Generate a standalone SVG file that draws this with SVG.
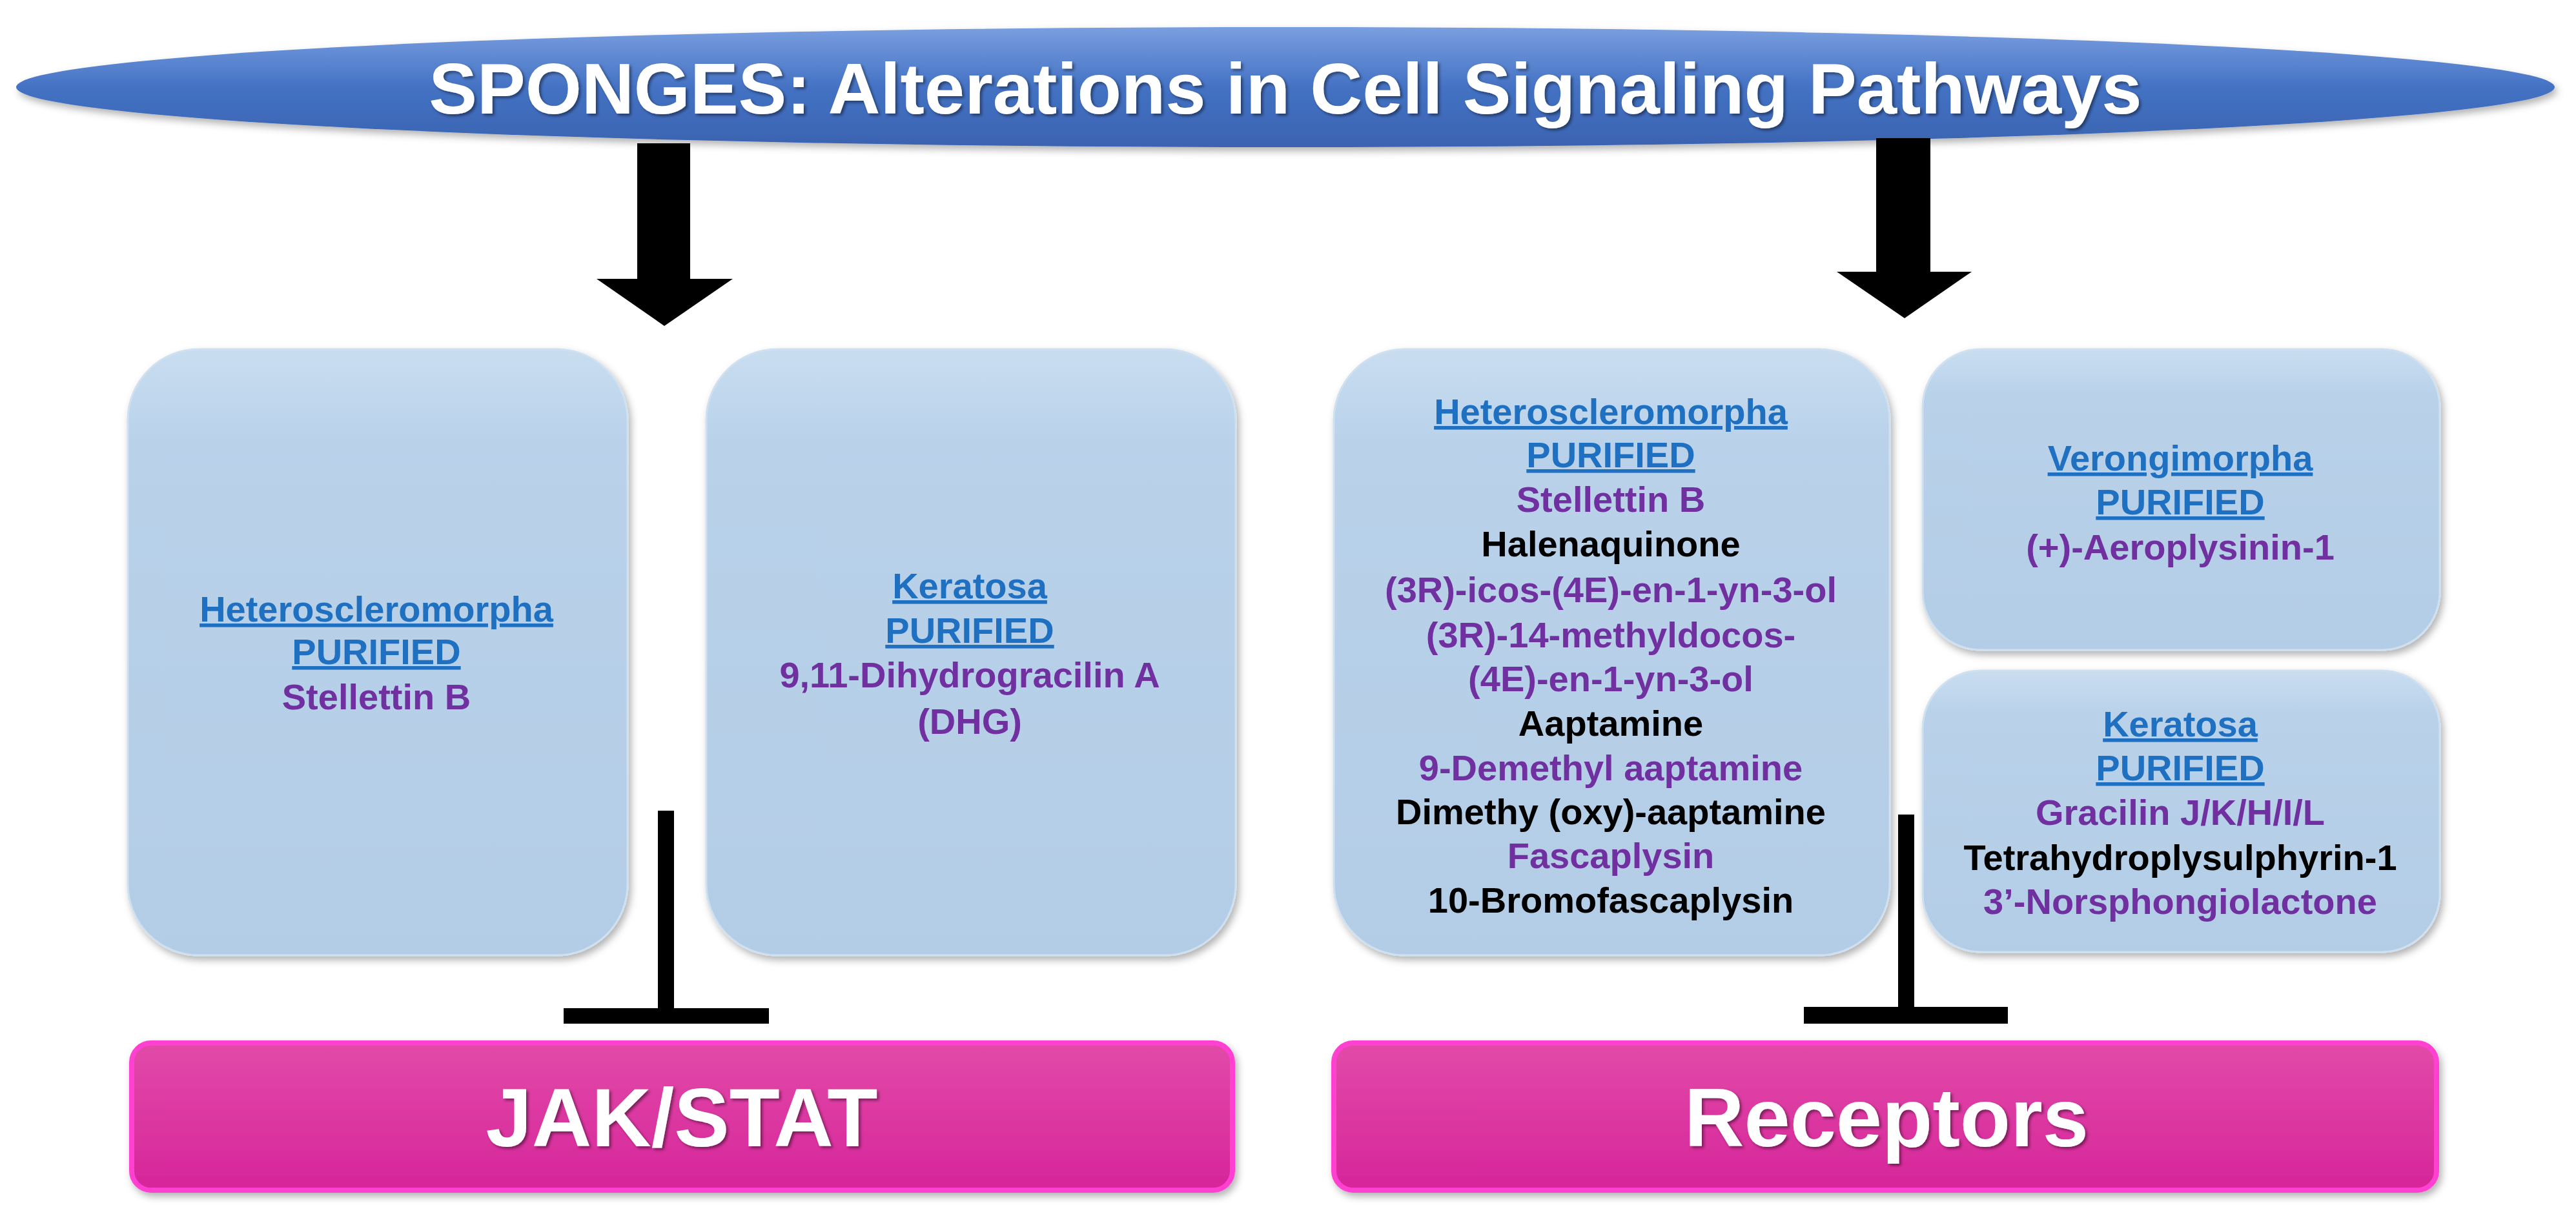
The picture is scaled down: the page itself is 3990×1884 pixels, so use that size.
<svg xmlns="http://www.w3.org/2000/svg" width="3990" height="1884" viewBox="0 0 3990 1884">
<defs>
<linearGradient id="ell" x1="0" y1="0" x2="0" y2="1"><stop offset="0" stop-color="#7a9fe0"/><stop offset="0.5" stop-color="#4472c4"/><stop offset="1" stop-color="#3a63b0"/></linearGradient>
<linearGradient id="box" x1="0" y1="0" x2="0" y2="1"><stop offset="0" stop-color="#c9ddf0"/><stop offset="0.15" stop-color="#b9d2ea"/><stop offset="1" stop-color="#b4cde6"/></linearGradient>
<linearGradient id="pink" x1="0" y1="0" x2="0" y2="1"><stop offset="0" stop-color="#e24aa8"/><stop offset="1" stop-color="#d6259a"/></linearGradient>
<filter id="sh" x="-10%" y="-10%" width="120%" height="120%"><feDropShadow dx="4" dy="6" stdDeviation="6" flood-color="#000" flood-opacity="0.3"/></filter>
<filter id="tsh"><feDropShadow dx="3" dy="3" stdDeviation="2" flood-color="#000" flood-opacity="0.45"/></filter>
</defs>
<style>
.b{fill:url(#box);stroke:#cfe0f0;stroke-width:3;filter:url(#sh)}
.t{font-family:"Liberation Sans",Arial,sans-serif;font-weight:bold;font-size:56px;text-anchor:middle}
.u{fill:#1f70c0;text-decoration:underline}
.p{fill:#7030a0}
.k{fill:#000}
.pk{fill:url(#pink);stroke:#ff3fd0;stroke-width:8;filter:url(#sh)}
.big{font-family:"Liberation Sans",Arial,sans-serif;font-weight:bold;font-size:128px;fill:#fff;text-anchor:middle;filter:url(#tsh)}
</style>
<rect width="3990" height="1884" fill="#fff"/>
<g id="title">
<ellipse cx="1991" cy="135" rx="1966" ry="93" fill="url(#ell)" filter="url(#sh)"/>
<text x="1991" y="176" font-family="Liberation Sans,Arial,sans-serif" font-weight="bold" font-size="112" fill="#fff" text-anchor="middle" filter="url(#tsh)">SPONGES: Alterations in Cell Signaling Pathways</text>
</g>
<g id="connectors" fill="#000">
<polygon points="987,222 1069,222 1069,432 1135,432 1029,505 924,432 987,432"/>
<polygon points="2906,214 2990,214 2990,421 3054,421 2950,493 2845,421 2906,421"/>
<rect x="1019" y="1256" width="25" height="310"/>
<rect x="873" y="1562" width="318" height="24"/>
<rect x="2940" y="1262" width="25" height="302"/>
<rect x="2794" y="1560" width="316" height="26"/>
</g>
<g id="box1">
<rect class="b" x="198" y="541" width="774" height="939" rx="110"/>
<text class="t u" x="583" y="963">Heteroscleromorpha</text>
<text class="t u" x="583" y="1029">PURIFIED</text>
<text class="t p" x="583" y="1099">Stellettin B</text>
</g>
<g id="box2">
<rect class="b" x="1094" y="541" width="820" height="939" rx="110"/>
<text class="t u" x="1502" y="927">Keratosa</text>
<text class="t u" x="1502" y="996">PURIFIED</text>
<text class="t p" x="1502" y="1065">9,11-Dihydrogracilin A</text>
<text class="t p" x="1502" y="1137">(DHG)</text>
</g>
<g id="box3">
<rect class="b" x="2066" y="541" width="861" height="939" rx="110"/>
<text class="t u" x="2495" y="657">Heteroscleromorpha</text>
<text class="t u" x="2495" y="724">PURIFIED</text>
<text class="t p" x="2495" y="793">Stellettin B</text>
<text class="t k" x="2495" y="862">Halenaquinone</text>
<text class="t p" x="2495" y="933">(3R)-icos-(4E)-en-1-yn-3-ol</text>
<text class="t p" x="2495" y="1003">(3R)-14-methyldocos-</text>
<text class="t p" x="2495" y="1071">(4E)-en-1-yn-3-ol</text>
<text class="t k" x="2495" y="1140">Aaptamine</text>
<text class="t p" x="2495" y="1209">9-Demethyl aaptamine</text>
<text class="t k" x="2495" y="1277">Dimethy (oxy)-aaptamine</text>
<text class="t p" x="2495" y="1345">Fascaplysin</text>
<text class="t k" x="2495" y="1414">10-Bromofascaplysin</text>
</g>
<g id="box4">
<rect class="b" x="2978" y="541" width="801" height="466" rx="90"/>
<text class="t u" x="3377" y="729">Verongimorpha</text>
<text class="t u" x="3377" y="797">PURIFIED</text>
<text class="t p" x="3377" y="867">(+)-Aeroplysinin-1</text>
</g>
<g id="box5">
<rect class="b" x="2978" y="1039" width="801" height="436" rx="90"/>
<text class="t u" x="3377" y="1141">Keratosa</text>
<text class="t u" x="3377" y="1209">PURIFIED</text>
<text class="t p" x="3377" y="1278">Gracilin J/K/H/I/L</text>
<text class="t k" x="3377" y="1348">Tetrahydroplysulphyrin-1</text>
<text class="t p" x="3377" y="1416">3’-Norsphongiolactone</text>
</g>
<g id="jakstat">
<rect class="pk" x="204" y="1616" width="1705" height="228" rx="30"/>
<text class="big" x="1056" y="1776">JAK/STAT</text>
</g>
<g id="receptors">
<rect class="pk" x="2066" y="1616" width="1708" height="228" rx="30"/>
<text class="big" x="2922" y="1776">Receptors</text>
</g>
</svg>
